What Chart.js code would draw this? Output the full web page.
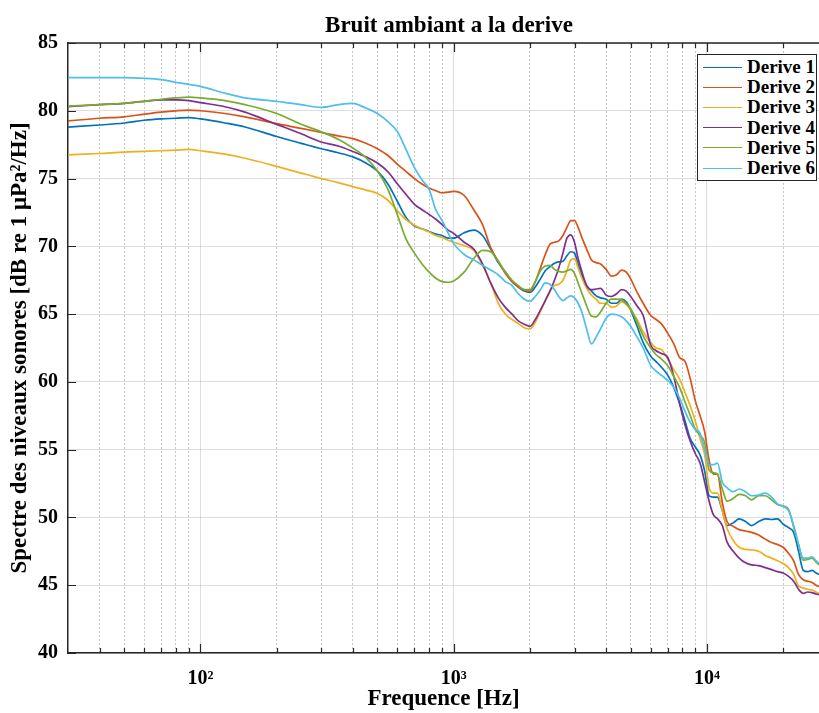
<!DOCTYPE html>
<html>
<head>
<meta charset="utf-8">
<script src="https://cdn.jsdelivr.net/npm/chart.js@4.4.0/dist/chart.umd.min.js"></script>
<style>
html,body{margin:0;padding:0;background:#fff;}
#wrap{position:relative;width:819px;height:713px;overflow:hidden;}
#title{position:absolute;left:299px;top:12px;width:300px;text-align:center;font:bold 23px/26px "Liberation Serif","Times New Roman",serif;color:#000;white-space:nowrap;}
#legend{position:absolute;left:697px;top:54px;width:120px;height:127px;border:1px solid #262626;background:#fff;box-sizing:border-box;font:bold 19px "Liberation Serif","Times New Roman",serif;color:#000;padding-top:2px;}
.row{display:flex;align-items:center;height:20.2px;white-space:nowrap;}
.sw{width:39px;height:0;border-top:1.6px solid;margin-left:5px;margin-right:5px;}
</style>
</head>
<body>
<div id="wrap"><canvas id="c" width="819" height="713"></canvas><div id="title">Bruit ambiant a la derive</div><div id="legend"></div></div>
<script>
const frequencies = [30,40,50,60,70,80,90,100,125,150,200,250,300,350,400,450,500,550,600,650,700,750,800,850,900,950,1000,1100,1200,1300,1400,1500,1600,1700,1800,1900,2000,2100,2200,2300,2400,2500,2600,2700,2800,2900,3000,3100,3200,3350,3500,3650,3800,4000,4200,4400,4600,4800,5000,5300,5600,6000,6300,6600,7000,7400,7800,8200,8600,9000,9400,9800,10200,10600,11000,11500,12000,12700,13400,14200,15000,16000,17000,18000,19000,20000,21000,22000,23000,24000,25000,26000,27000,27700];

const derive1 = [78.8,78.95,79.1,79.3,79.4,79.45,79.5,79.4,79.1,78.8,
78.1,77.6,77.2,76.9,76.6,76.15,75.55,74.6,73.3,72.1,
71.5,71.3,71.1,70.9,70.8,70.6,70.6,71.0,71.2,70.8,
69.8,68.8,68.1,67.4,67.0,66.7,66.6,67.0,67.6,68.2,
68.5,68.75,68.85,68.9,69.3,69.6,69.5,68.7,67.9,67.1,
66.7,66.35,66.2,66.1,65.8,65.8,66.1,65.9,65.3,64.1,
62.9,61.9,61.5,61.1,60.5,59.6,58.4,57.1,55.8,55.2,
54.6,53.4,51.6,51.5,51.5,50.5,49.4,49.6,49.9,49.7,
49.4,49.7,49.9,49.85,49.9,49.5,49.25,48.9,47.5,46.1,
46.0,46.1,45.9,45.8];

const derive2 = [79.25,79.45,79.55,79.75,79.9,80.0,80.05,80.0,79.8,79.55,
79.05,78.7,78.4,78.15,77.95,77.6,77.2,76.7,76.05,75.5,
75.0,74.6,74.3,74.1,73.95,74.0,74.05,73.75,72.7,71.6,
69.9,68.9,68.0,67.4,67.0,66.8,66.7,67.4,68.4,69.4,
70.15,70.3,70.4,70.8,71.4,71.9,71.9,71.4,70.7,69.8,
69.0,68.8,68.7,68.3,67.8,67.9,68.25,68.1,67.6,66.6,
65.8,64.9,64.6,64.3,63.6,62.8,61.8,61.5,60.2,58.6,
57.5,56.3,54.2,53.2,53.2,51.1,49.7,49.35,49.1,49.0,
48.9,48.7,48.4,48.15,48.0,47.8,47.35,46.8,45.8,45.4,
45.3,45.2,45.0,44.9];

const derive3 = [76.75,76.85,76.95,77.0,77.05,77.1,77.15,77.05,76.8,76.5,
75.9,75.4,75.0,74.7,74.4,74.15,73.9,73.4,72.6,71.95,
71.55,71.3,71.05,70.8,70.65,70.45,70.3,70.05,69.7,68.6,
67.3,65.8,65.0,64.6,64.3,64.0,63.9,64.4,65.2,66.0,
66.7,67.1,67.2,67.5,68.2,69.0,69.1,68.4,67.7,66.9,
66.4,66.1,65.8,65.8,65.5,65.6,65.9,65.7,65.3,64.6,
63.7,62.9,62.5,62.4,61.7,60.9,60.2,59.2,58.2,57.1,
55.8,54.6,52.2,51.8,51.8,50.5,49.2,48.3,47.8,47.65,
47.6,47.5,47.2,47.0,46.8,46.6,46.3,45.8,44.95,44.8,
44.7,44.65,44.5,44.4];

const derive4 = [80.3,80.45,80.55,80.7,80.8,80.8,80.75,80.6,80.3,79.9,
79.0,78.3,77.7,77.4,77.0,76.6,76.15,75.5,74.6,73.8,
73.1,72.7,72.35,72.0,71.6,71.2,70.95,70.3,69.8,68.7,
67.3,66.2,65.5,65.0,64.5,64.25,64.1,64.6,65.3,66.0,
66.7,67.5,68.4,69.5,70.6,70.85,70.3,69.1,68.2,67.1,
66.8,66.85,66.9,66.4,66.3,66.5,66.8,66.7,66.3,65.6,
64.9,62.7,62.3,62.1,61.8,60.4,58.4,56.8,55.6,54.7,
54.0,52.6,51.2,50.2,49.9,49.4,48.2,47.5,47.0,46.65,
46.5,46.45,46.3,46.15,46.0,45.9,45.65,45.3,44.7,44.4,
44.5,44.45,44.35,44.3];

const derive5 = [80.35,80.45,80.55,80.7,80.85,80.95,81.0,80.95,80.75,80.45,
79.8,79.0,78.45,77.9,77.25,76.55,75.55,74.2,72.3,70.5,
69.5,68.7,68.1,67.65,67.4,67.35,67.45,68.1,69.1,69.7,
69.6,68.9,68.1,67.5,67.1,66.8,66.8,67.4,68.2,68.55,
68.6,68.3,68.15,68.1,68.2,68.3,68.0,67.3,66.6,65.6,
64.85,64.8,65.15,65.8,66.1,66.1,66.05,65.8,65.4,64.4,
63.4,62.5,62.0,61.7,61.2,60.4,59.6,58.5,57.5,56.5,
56.05,55.5,53.5,53.3,53.2,52.1,51.2,51.4,51.7,51.6,
51.3,51.6,51.6,51.3,50.95,50.85,50.6,49.3,48.0,46.85,
46.9,47.0,46.7,46.5];

const derive6 = [82.45,82.45,82.45,82.4,82.3,82.1,81.95,81.8,81.3,80.95,
80.7,80.45,80.25,80.45,80.55,80.2,79.8,79.2,78.45,77.1,
75.8,74.9,74.2,72.7,71.9,71.0,70.2,69.4,69.0,68.6,
68.25,67.9,67.4,67.1,66.5,66.1,65.95,66.3,66.8,67.3,
67.2,66.8,66.3,66.0,66.2,66.35,66.2,65.8,65.2,63.9,
62.8,63.3,63.9,64.7,65.0,64.95,64.8,64.5,64.1,63.3,
62.5,61.2,60.8,60.5,60.1,59.6,58.8,57.8,57.0,56.5,
56.2,55.0,53.9,53.9,54.0,52.6,52.2,51.9,52.1,51.9,
51.6,51.65,51.8,51.5,51.0,50.8,50.5,49.4,48.0,47.0,
47.0,47.1,46.8,46.6];

const seriesNames = ['Derive 1','Derive 2','Derive 3','Derive 4','Derive 5','Derive 6'];
const seriesColors = ['#0072BD','#D95319','#EDB120','#7E2F8E','#77AC30','#4DBEEE'];
const seriesValues = [derive1, derive2, derive3, derive4, derive5, derive6];

const yTickValues = [40,45,50,55,60,65,70,75,80,85];
const xMajorTicks = [100,1000,10000];
const xMajorLabels = ['10\u00B2','10\u00B3','10\u2074'];
const xMinorTicks = [40,50,60,70,80,90,200,300,400,500,600,700,800,900,2000,3000,4000,5000,6000,7000,8000,9000,20000];

const FONT = "'Liberation Serif','Times New Roman',serif";
const AXIS = '#262626';

const frame = {
  id: 'frame',
  afterDraw(chart) {
    const {ctx, chartArea: a, scales} = chart;
    const x = scales.x, y = scales.y;
    ctx.save();
    ctx.strokeStyle = AXIS;
    ctx.lineWidth = 1.2;
    ctx.beginPath();
    xMajorTicks.forEach(v => {
      const px = Math.round(x.getPixelForValue(v)) + 0.5;
      ctx.moveTo(px, a.bottom); ctx.lineTo(px, a.bottom - 9);
      ctx.moveTo(px, a.top); ctx.lineTo(px, a.top + 9);
    });
    xMinorTicks.forEach(v => {
      const px = Math.round(x.getPixelForValue(v)) + 0.5;
      ctx.moveTo(px, a.bottom); ctx.lineTo(px, a.bottom - 5);
      ctx.moveTo(px, a.top); ctx.lineTo(px, a.top + 5);
    });
    yTickValues.forEach(v => {
      const py = Math.round(y.getPixelForValue(v)) + 0.5;
      ctx.moveTo(a.left, py); ctx.lineTo(a.left + 8, py);
    });
    ctx.stroke();
    ctx.lineWidth = 1.5;
    ctx.beginPath();
    ctx.moveTo(a.left, a.top); ctx.lineTo(a.right, a.top);
    ctx.stroke();
    ctx.restore();
  }
};

const datasets = seriesNames.map((name, i) => ({
  label: name,
  data: frequencies.map((f, k) => ({x: f, y: seriesValues[i][k]})),
  borderColor: seriesColors[i],
  backgroundColor: seriesColors[i],
  borderWidth: 1.7,
  pointRadius: 0,
  fill: false,
  cubicInterpolationMode: 'monotone',
  order: seriesNames.length - i
}));

new Chart(document.getElementById('c'), {
  type: 'line',
  data: { datasets },
  options: {
    responsive: false,
    animation: false,
    devicePixelRatio: 1,
    layout: { padding: { top: 43, left: 0, right: 0, bottom: 0 } },
    plugins: {
      legend: { display: false },
      tooltip: { enabled: false },
      title: { display: false }
    },
    scales: {
      x: {
        type: 'logarithmic',
        position: 'bottom',
        min: 30, max: 27700,
        afterBuildTicks: s => { s.ticks = xMajorTicks.map(v => ({ value: v, major: true })); },
        afterFit: s => { s.height = 60; },
        ticks: {
          autoSkip: false, maxRotation: 0, padding: 14, color: '#000',
          font: { family: FONT, size: 20, weight: 'bold' },
          callback: v => { const i = xMajorTicks.indexOf(v); return i >= 0 ? xMajorLabels[i] : ''; }
        },
        grid: { color: 'rgba(0,0,0,0.13)', lineWidth: 1, drawTicks: false },
        border: { display: true, color: AXIS, width: 1.5 },
        title: {
          display: true, text: 'Frequence [Hz]', color: '#000',
          font: { family: FONT, size: 23, weight: 'bold' }, padding: { top: 0, bottom: 0 }
        }
      },
      x2: {
        type: 'logarithmic',
        position: 'bottom',
        min: 30, max: 27700,
        afterBuildTicks: s => { s.ticks = xMinorTicks.map(v => ({ value: v })); },
        afterFit: s => { s.height = 0; },
        ticks: { display: false },
        grid: { color: 'rgba(0,0,0,0.22)', lineWidth: 1, drawTicks: false },
        border: { display: false, dash: [2, 2] }
      },
      y: {
        type: 'linear',
        min: 40, max: 85,
        afterBuildTicks: s => { s.ticks = yTickValues.map(v => ({ value: v })); },
        afterFit: s => { s.width = 68; },
        ticks: {
          padding: 10, color: '#000',
          font: { family: FONT, size: 20, weight: 'bold' }
        },
        grid: { color: 'rgba(0,0,0,0.13)', lineWidth: 1, drawTicks: false },
        border: { display: true, color: AXIS, width: 1.5 },
        title: {
          display: true, text: 'Spectre des niveaux sonores [dB re 1 \u03BCPa\u00B2/Hz]', color: '#000',
          font: { family: FONT, size: 23, weight: 'bold' }, padding: { top: 6, bottom: 0 }
        }
      }
    }
  },
  plugins: [frame]
});

const legend = document.getElementById('legend');
seriesNames.forEach((name, i) => {
  const row = document.createElement('div');
  row.className = 'row';
  const sw = document.createElement('span');
  sw.className = 'sw';
  sw.style.borderTopColor = seriesColors[i];
  const t = document.createElement('span');
  t.textContent = name;
  row.appendChild(sw); row.appendChild(t);
  legend.appendChild(row);
});
</script>
</body>
</html>
